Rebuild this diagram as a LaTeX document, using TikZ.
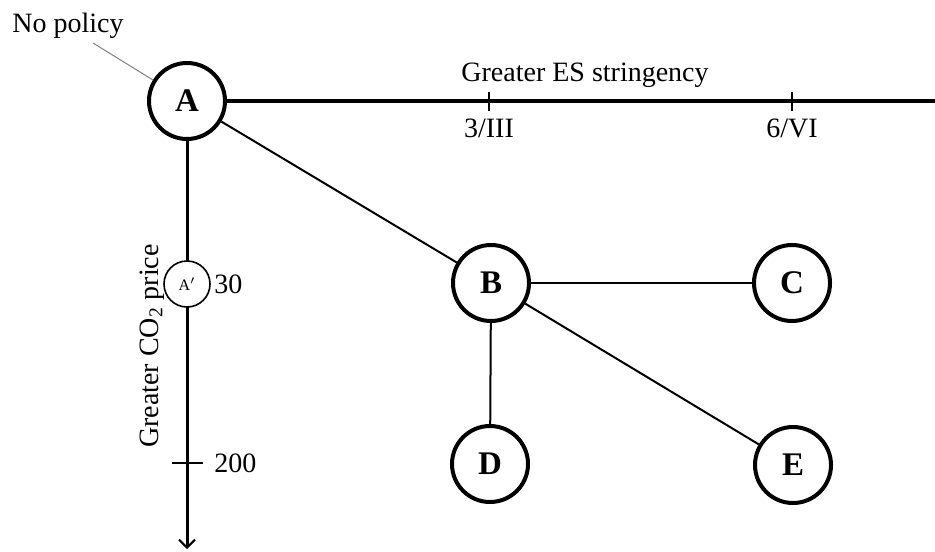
\documentclass[tikz,border=0pt]{standalone}
\usepackage{fontspec}
\setmainfont{Liberation Serif}
\usetikzlibrary{arrows.meta}
\begin{document}
\begin{tikzpicture}[x=0.5pt,y=-0.5pt,
  every node/.style={font=\fontsize{14}{17}\selectfont},
  state/.style={circle,draw,line width=2pt,minimum size=38pt,inner sep=0pt,fill=white,font=\fontsize{16.5}{19}\selectfont\bfseries},
  small/.style={circle,draw,line width=0.8pt,minimum size=23pt,inner sep=0pt,fill=white,font=\fontsize{8}{9}\selectfont},
  axis/.style={line width=1.5pt,-{Straight Barb[length=4pt,width=8pt,line width=1pt]}},
  tick/.style={line width=1pt},
  link/.style={line width=1pt},
  lab/.style={inner sep=0pt}]
\useasboundingbox (0,0) rectangle (935,551);
% nodes
\node[state] (A) at (187,101) {A};
\node[state] (B) at (491,283) {B};
\node[state] (C) at (792,283) {C};
\node[state] (D) at (490,464) {D};
\node[state] (E) at (793,465) {E};
% axes
\coordinate (hend) at (946,101);
\coordinate (vend) at (187,549);
\draw[axis] (A.east) -- (hend);
\draw[axis] (A.south) -- (vend);
\node[small] (Ap) at (187,284) {A$'$};
% ticks
\coordinate (t3a) at (489,92); \coordinate (t3b) at (489,111);
\coordinate (t6a) at (792,92); \coordinate (t6b) at (792,111);
\coordinate (t200a) at (172,463); \coordinate (t200b) at (203,463);
\draw[tick] (t3a) -- (t3b);
\draw[tick] (t6a) -- (t6b);
\draw[tick] (t200a) -- (t200b);
% labels
\node[lab,anchor=base] (ges) at (585,82) {Greater ES stringency};
\node[lab,anchor=north] (l3) at (489,119) {3/III};
\node[lab,anchor=north] (l6) at (792,119) {6/VI};
\node[lab,anchor=west] (l30) at (214,284) {30};
\node[lab,anchor=west] (l200) at (214,463) {200};
\node[lab,rotate=90,anchor=base] (gco) at (158,346) {Greater CO\textsubscript{2} price};
\node[lab,anchor=base] (nop) at (68,33) {No policy};
\coordinate (np) at (93,43);
\draw[gray,line width=0.5pt] (np) -- (A);
% links
\draw[link] (A) -- (B);
\draw[link] (B) -- (C);
\draw[link] (B) -- (D);
\draw[link] (B) -- (E);
\end{tikzpicture}
\end{document}
